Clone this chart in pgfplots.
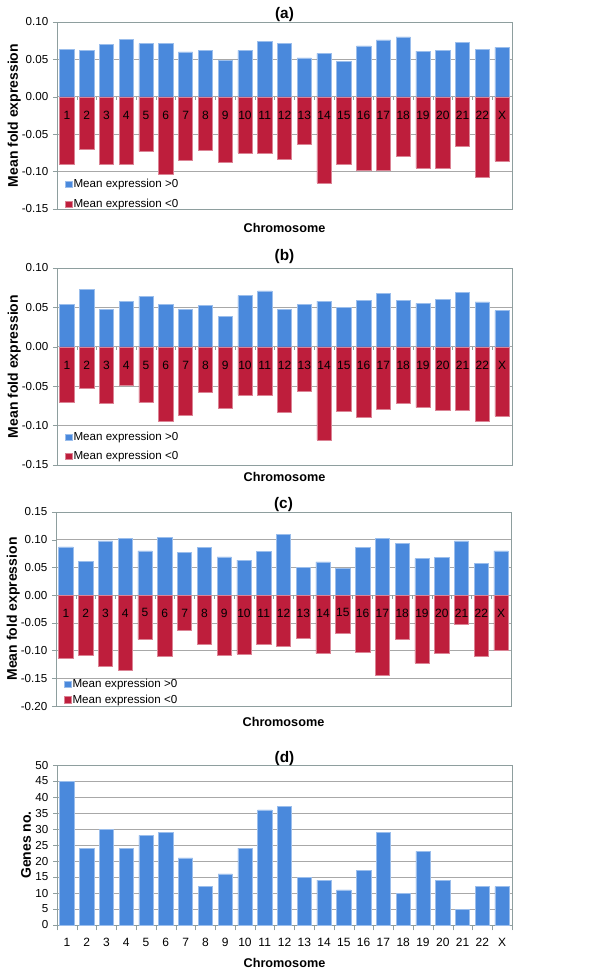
\documentclass[border=0pt]{standalone}
\usepackage{fontspec}
\setmainfont{Liberation Sans}
\usepackage{pgfplots}
\usepackage{pgfplotstable}
\pgfplotsset{compat=1.18}

\definecolor{PosBlue}{HTML}{4A89DC}
\definecolor{NegRed}{HTML}{BE1E3C}
\definecolor{FrameGray}{HTML}{8E9E9E}
\definecolor{GridGray}{HTML}{A8A8A8}

% mean fold expression per chromosome, x = 0..22 (1..22, X)
\pgfplotstableread{
x pos neg
0  0.063 -0.090
1  0.062 -0.070
2  0.070 -0.090
3  0.077 -0.090
4  0.071 -0.073
5  0.071 -0.103
6  0.060 -0.085
7  0.062 -0.072
8  0.049 -0.088
9  0.062 -0.075
10 0.074 -0.075
11 0.071 -0.084
12 0.052 -0.063
13 0.058 -0.115
14 0.047 -0.090
15 0.068 -0.098
16 0.076 -0.098
17 0.080 -0.080
18 0.061 -0.095
19 0.062 -0.096
20 0.073 -0.066
21 0.063 -0.108
22 0.066 -0.086
}\tabA

\pgfplotstableread{
x pos neg
0  0.054 -0.071
1  0.073 -0.053
2  0.047 -0.072
3  0.058 -0.049
4  0.064 -0.071
5  0.054 -0.095
6  0.047 -0.087
7  0.053 -0.058
8  0.039 -0.078
9  0.065 -0.061
10 0.071 -0.061
11 0.047 -0.083
12 0.054 -0.056
13 0.058 -0.118
14 0.050 -0.082
15 0.059 -0.090
16 0.068 -0.079
17 0.059 -0.072
18 0.055 -0.077
19 0.060 -0.080
20 0.069 -0.081
21 0.057 -0.095
22 0.046 -0.088
}\tabB

\pgfplotstableread{
x pos neg
0  0.087 -0.114
1  0.061 -0.108
2  0.098 -0.129
3  0.103 -0.136
4  0.080 -0.080
5  0.104 -0.111
6  0.077 -0.064
7  0.086 -0.089
8  0.069 -0.108
9  0.063 -0.106
10 0.079 -0.089
11 0.109 -0.093
12 0.050 -0.077
13 0.060 -0.105
14 0.048 -0.069
15 0.086 -0.103
16 0.103 -0.144
17 0.094 -0.080
18 0.066 -0.122
19 0.068 -0.104
20 0.098 -0.052
21 0.057 -0.110
22 0.080 -0.100
}\tabC

\pgfplotstableread{
x genes
0  45
1  24
2  30
3  24
4  28
5  29
6  21
7  12
8  16
9  24
10 36
11 37
12 15
13 14
14 11
15 17
16 29
17 10
18 23
19 14
20 5
21 12
22 12
}\tabD

\newcommand{\chrlist}{1,2,3,4,5,6,7,8,9,10,11,12,13,14,15,16,17,18,19,20,21,22,X}

\pgfplotsset{
  chrbase/.style={
    scale only axis,
    width=341.25pt,
    anchor=north west,
    xmin=-0.5, xmax=22.5,
    axis line style={FrameGray},
    ymajorgrids,
    grid style={GridGray, line width=0.5pt},
    tick align=outside,
    ytick pos=left,
    xtick pos=bottom,
    major tick length=3pt,
    tick style={FrameGray},
    tick label style={font=\fontsize{8.7}{10}\selectfont},
    /pgf/number format/assume math mode=true,
    title style={font=\fontsize{11.5}{13}\selectfont\bfseries, at={(0.5,1)}, anchor=center},
    xlabel={Chromosome},
    xlabel style={font=\fontsize{9.5}{11}\selectfont\bfseries, anchor=center},
    every axis y label/.style={font=\fontsize{10.5}{12}\selectfont\bfseries,
      rotate=90, anchor=center},
  },
  foldaxis/.style={
    chrbase,
    xtick=\empty,
    ylabel={Mean fold expression},
    ylabel style={at={(axis description cs:-0.094,0.5)}},
    ytick distance=0.05,
    yticklabel style={/pgf/number format/.cd, fixed, fixed zerofill, precision=2},
    legend style={draw=none, fill=none, at={(rel axis cs:0,0)}, anchor=south west,
      xshift=3pt, font=\fontsize{8.7}{10}\selectfont, nodes={inner sep=1pt}},
    legend cell align=left,
    legend image code/.code={\fill[##1] (0pt,-2.4pt) rectangle (4.8pt,2.4pt);},
  },
  posbar/.style={ybar, bar shift=0pt, bar width=10.7pt, fill=PosBlue, draw=PosBlue!55!white, line width=0.4pt},
  negbar/.style={ybar, bar shift=0pt, bar width=10.7pt, fill=NegRed, draw=NegRed!55!white, line width=0.4pt},
}

% category names inside the plot, just below zero, and the small ticks on the zero line
\newcommand{\chrlabels}[1]{%
  \foreach \lab [count=\i from 0] in \chrlist {%
    \edef\temp{\noexpand\node[font=\noexpand\fontsize{9}{10}\noexpand\selectfont] at (axis cs:\i,#1) {\lab};}\temp}%
  \foreach \k in {0,...,23} {%
    \edef\temp{\noexpand\draw[FrameGray, line width=0.4pt] (axis cs:\k-0.5,0) -- ++(0pt,-2.6pt);}\temp}}

\begin{document}
\begin{tikzpicture}
\useasboundingbox (0,0) rectangle (450pt,-735pt);

% (a)
\begin{axis}[foldaxis, at={(42.75pt,-16.5pt)}, height=140.25pt,
  ymin=-0.15, ymax=0.10, title={(a)}, title style={yshift=-0.5pt},
  xlabel style={at={(axis description cs:0.5,-0.102)}},
  legend style={yshift=-3.5pt, row sep=5pt}]
\addplot[posbar] table[x=x, y=pos] {\tabA};
\addplot[negbar] table[x=x, y=neg] {\tabA};
\legend{Mean expression >0, Mean expression <0}
\chrlabels{-0.025}
\end{axis}

% (b)
\begin{axis}[foldaxis, at={(42.75pt,-201pt)}, height=147.75pt,
  ymin=-0.15, ymax=0.10, title={(b)}, title style={yshift=2.25pt},
  xlabel style={at={(axis description cs:0.5,-0.062)}},
  legend style={yshift=-0.5pt, row sep=4.2pt}]
\addplot[posbar] table[x=x, y=pos] {\tabB};
\addplot[negbar] table[x=x, y=neg] {\tabB};
\legend{Mean expression >0, Mean expression <0}
\chrlabels{-0.024}
\end{axis}

% (c)
\begin{axis}[foldaxis, at={(42pt,-384pt)}, height=145.5pt,
  ymin=-0.20, ymax=0.15, title={(c)}, title style={yshift=-0.75pt},
  xlabel style={at={(axis description cs:0.5,-0.081)}},
  legend style={yshift=-2.5pt, row sep=2pt}]
\addplot[posbar] table[x=x, y=pos] {\tabC};
\addplot[negbar] table[x=x, y=neg] {\tabC};
\legend{Mean expression >0, Mean expression <0}
\chrlabels{-0.032}
\end{axis}

% (d)
\begin{axis}[chrbase, at={(42.75pt,-573.75pt)}, height=120pt,
  ymin=0, ymax=50, ytick distance=5,
  title={(d)}, title style={yshift=-1.5pt},
  xtick={0,...,22}, xticklabels/.expand once=\chrlist,
  major x tick style={draw=none},
  minor xtick={-0.5,0.5,...,22.5}, minor tick length=4pt,
  xticklabel style={font=\fontsize{9}{10}\selectfont, yshift=-3.5pt},
  ylabel={Genes no.},
  ylabel style={at={(axis description cs:-0.068,0.5)}},
  xlabel style={at={(axis description cs:0.5,-0.2375)}}]
\addplot[posbar] table[x=x, y=genes] {\tabD};
\end{axis}
\end{tikzpicture}
\end{document}
